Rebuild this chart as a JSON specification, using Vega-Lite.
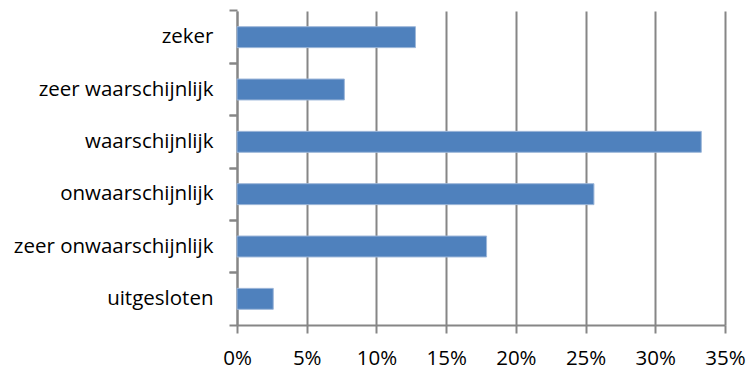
{
  "$schema": "https://vega.github.io/schema/vega-lite/v6.json",
  "autosize": {"type": "none"},
  "width": 488,
  "height": 314,
  "padding": {"left": 237, "top": 11, "right": 25, "bottom": 47},
  "background": "white",
  "data": {"values": [
    {"category": "zeker", "value": 0.128},
    {"category": "zeer waarschijnlijk", "value": 0.077},
    {"category": "waarschijnlijk", "value": 0.333},
    {"category": "onwaarschijnlijk", "value": 0.256},
    {"category": "zeer onwaarschijnlijk", "value": 0.179},
    {"category": "uitgesloten", "value": 0.026}
  ]},
  "config": {
    "view": {"stroke": null},
    "axis": {"labelFont": "Open Sans", "labelColor": "#000000", "domainColor": "#868686", "tickColor": "#868686", "domainWidth": 2, "tickWidth": 2, "gridColor": "#868686", "gridWidth": 2, "gridOpacity": 1, "labelLimit": 400}
  },
  "resolve": {"axis": {"y": "independent"}},
  "layer": [
    {
      "mark": {"type": "bar", "color": "#4F81BD", "stroke": "#9DB7D9", "strokeWidth": 1},
      "encoding": {
        "y": {"field": "category", "type": "nominal", "sort": null, "title": null,
              "scale": {"paddingInner": 0.6, "paddingOuter": 0.3},
              "axis": {"orient": "left", "ticks": false, "domain": true, "labelFontSize": 20.5, "labelPadding": 24}},
        "x": {"field": "value", "type": "quantitative", "title": null,
              "scale": {"domain": [0, 0.35], "nice": false},
              "axis": {"format": "0%", "values": [0, 0.05, 0.1, 0.15, 0.2, 0.25, 0.3, 0.35], "labelFontSize": 20.5, "labelPadding": 15, "tickSize": 8, "grid": true, "labelFlush": false}}
      }
    },
    {
      "mark": {"type": "bar", "opacity": 0},
      "encoding": {
        "y": {"field": "category", "type": "nominal", "sort": null, "title": null,
              "scale": {"paddingInner": 0.6, "paddingOuter": 0.3},
              "axis": {"orient": "left", "labels": false, "ticks": true, "tickSize": 8, "bandPosition": -0.75, "domain": false}},
        "x": {"field": "value", "type": "quantitative"}
      }
    },
    {
      "mark": {"type": "bar", "opacity": 0},
      "encoding": {
        "y": {"field": "category", "type": "nominal", "sort": null, "title": null,
              "scale": {"paddingInner": 0.6, "paddingOuter": 0.3},
              "axis": {"orient": "left", "labels": false, "ticks": true, "tickSize": 8, "bandPosition": 1.75, "domain": false}},
        "x": {"field": "value", "type": "quantitative"}
      }
    }
  ]
}
